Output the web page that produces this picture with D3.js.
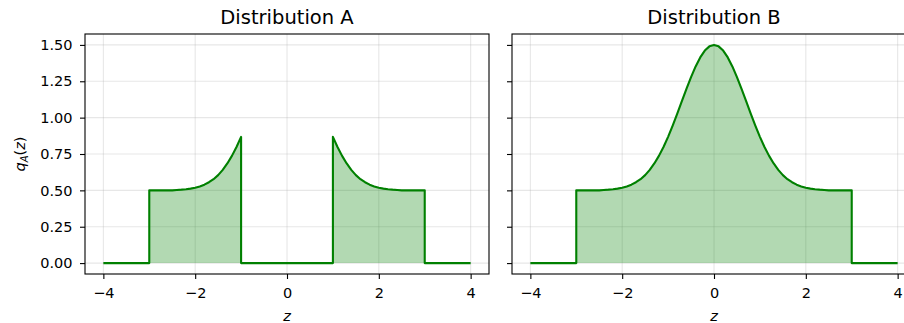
<!DOCTYPE html>
<html><head><meta charset="utf-8">
<script src="https://cdn.jsdelivr.net/npm/d3@7"></script>
<style>body{margin:0;background:#fff;}svg{display:block;font-family:"DejaVu Sans",sans-serif;}</style>
</head><body><svg id="c" width="904" height="323"></svg>
<script>
const titles = ["Distribution A", "Distribution B"];
const xTicks = [-4, -2, 0, 2, 4];
const yTicks = [0, 0.25, 0.5, 0.75, 1.0, 1.25, 1.5];

const zA = [-4.0, -3.0, -3.0, -2.9, -2.8, -2.7, -2.6, -2.5, -2.4, -2.3, -2.2, -2.1, -2.0, -1.9, -1.8, -1.7, -1.6, -1.5, -1.4, -1.3, -1.2, -1.1, -1.0, -1.0,
            1.0, 1.0, 1.1, 1.2, 1.3, 1.4, 1.5, 1.6, 1.7, 1.8, 1.9, 2.0, 2.1, 2.2, 2.3, 2.4, 2.5, 2.6, 2.7, 2.8, 2.9, 3.0, 3.0, 4.0];
const qA = [0, 0, 0.50, 0.50, 0.50, 0.50, 0.50, 0.50, 0.503, 0.505, 0.508, 0.512, 0.518, 0.527, 0.539, 0.556, 0.577, 0.605, 0.641, 0.685, 0.737, 0.798, 0.868, 0,
            0, 0.868, 0.798, 0.737, 0.685, 0.641, 0.605, 0.577, 0.556, 0.539, 0.527, 0.518, 0.512, 0.508, 0.505, 0.503, 0.50, 0.50, 0.50, 0.50, 0.50, 0.50, 0, 0];

const zB = [-4.0, -3.0, -3.0, -2.9, -2.8, -2.7, -2.6, -2.5, -2.4, -2.3, -2.2, -2.1, -2.0, -1.9, -1.8, -1.7, -1.6, -1.5, -1.4, -1.3, -1.2, -1.1, -1.0,
            -0.9, -0.8, -0.7, -0.6, -0.5, -0.4, -0.3, -0.2, -0.1, 0.0, 0.1, 0.2, 0.3, 0.4, 0.5, 0.6, 0.7, 0.8, 0.9,
            1.0, 1.1, 1.2, 1.3, 1.4, 1.5, 1.6, 1.7, 1.8, 1.9, 2.0, 2.1, 2.2, 2.3, 2.4, 2.5, 2.6, 2.7, 2.8, 2.9, 3.0, 3.0, 4.0];
const qB = [0, 0, 0.50, 0.50, 0.50, 0.50, 0.50, 0.50, 0.503, 0.505, 0.508, 0.512, 0.518, 0.527, 0.539, 0.556, 0.577, 0.605, 0.641, 0.685, 0.737, 0.798, 0.868,
            0.945, 1.027, 1.113, 1.198, 1.279, 1.352, 1.414, 1.461, 1.490, 1.500, 1.490, 1.461, 1.414, 1.352, 1.279, 1.198, 1.113, 1.027, 0.945,
            0.868, 0.798, 0.737, 0.685, 0.641, 0.605, 0.577, 0.556, 0.539, 0.527, 0.518, 0.512, 0.508, 0.505, 0.503, 0.50, 0.50, 0.50, 0.50, 0.50, 0.50, 0, 0];

const series = [zA.map((z,i)=>({z, q:qA[i]})), zB.map((z,i)=>({z, q:qB[i]}))];

const svg = d3.select("#c");
const panelLeft = [85, 512];
const pw = 404, axTop = 34, axBottom = 274;
const y = d3.scaleLinear().domain([-0.075, 1.575]).range([axBottom, axTop]);
const fmtMinus = d => (d < 0 ? "\u2212" + Math.abs(d) : String(d));

series.forEach((data, p) => {
  const x = d3.scaleLinear().domain([-4.4, 4.4]).range([panelLeft[p], panelLeft[p] + pw]);
  const g = svg.append("g");
  g.append("g").selectAll("line").data(xTicks).join("line")
    .attr("x1", d => x(d)).attr("x2", d => x(d)).attr("y1", axTop).attr("y2", axBottom)
    .attr("stroke", "#b0b0b0").attr("stroke-opacity", 0.3).attr("stroke-width", 1.1);
  g.append("g").selectAll("line").data(yTicks).join("line")
    .attr("x1", panelLeft[p]).attr("x2", panelLeft[p] + pw).attr("y1", d => y(d)).attr("y2", d => y(d))
    .attr("stroke", "#b0b0b0").attr("stroke-opacity", 0.3).attr("stroke-width", 1.1);
  g.append("path").datum(data)
    .attr("d", d3.area().x(d => x(d.z)).y0(y(0)).y1(d => y(d.q)))
    .attr("fill", "green").attr("fill-opacity", 0.3);
  g.append("path").datum(data)
    .attr("d", d3.line().x(d => x(d.z)).y(d => y(d.q)))
    .attr("fill", "none").attr("stroke", "green").attr("stroke-width", 2.1).attr("stroke-linejoin", "round");
  const xa = g.append("g").attr("transform", `translate(0,${axBottom})`)
    .call(d3.axisBottom(x).tickValues(xTicks).tickFormat(fmtMinus).tickSize(5).tickPadding(9));
  const ya = g.append("g").attr("transform", `translate(${panelLeft[p]},0)`)
    .call(d3.axisLeft(y).tickValues(yTicks).tickFormat(p === 0 ? d3.format(".2f") : () => "").tickSize(5).tickPadding(7.5));
  [xa, ya].forEach(a => {
    a.select(".domain").remove();
    a.selectAll("line").attr("stroke", "#000").attr("stroke-width", 1.1);
    a.selectAll("text").attr("fill", "#000").attr("font-size", 14.5).attr("font-family", "DejaVu Sans");
  });
  g.append("rect").attr("x", panelLeft[p]).attr("y", axTop).attr("width", pw).attr("height", axBottom - axTop)
    .attr("fill", "none").attr("stroke", "#000").attr("stroke-width", 1.1);
  g.append("text").attr("x", panelLeft[p] + pw / 2).attr("y", 24).attr("text-anchor", "middle")
    .attr("font-size", 19.5).attr("fill", "#000").text(titles[p]);
  g.append("text").attr("x", panelLeft[p] + pw / 2).attr("y", 321).attr("text-anchor", "middle")
    .attr("font-size", 14.5).attr("font-style", "italic").attr("font-family", "DejaVu Sans").text("z");
});

const yl = svg.append("text").attr("transform", `translate(25,${(axTop + axBottom) / 2}) rotate(-90)`)
  .attr("text-anchor", "middle").attr("font-size", 14.5).attr("font-family", "DejaVu Sans");
yl.append("tspan").attr("font-style", "italic").text("q");
yl.append("tspan").attr("font-style", "italic").attr("font-size", 10).attr("dy", 3).text("A");
yl.append("tspan").attr("dy", -3).text("(");
yl.append("tspan").attr("font-style", "italic").text("z");
yl.append("tspan").text(")");
</script></body></html>
